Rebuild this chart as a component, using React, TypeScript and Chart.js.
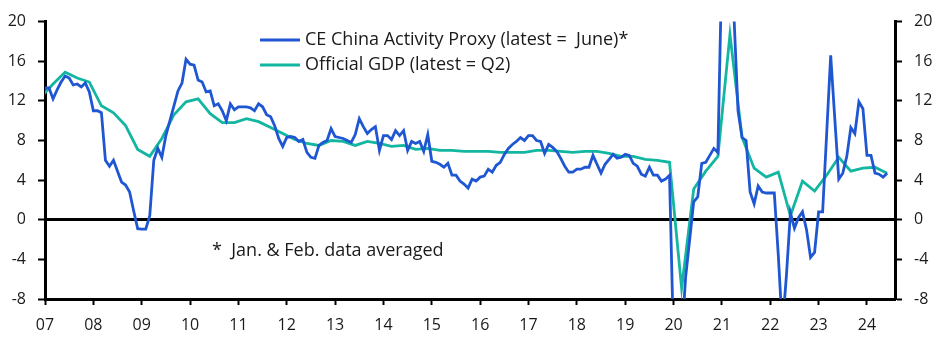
import React, { useEffect, useRef } from "react";
import { Chart, registerables } from "chart.js";

Chart.register(...registerables);

// ---- DATA ----
// CE China Activity Proxy, % y/y, monthly from Jan 2007 to Jun 2024
const activityStart = 2007;
const activityProxy = [
  13.3, 13.3, 12.2, 13.1, 13.9, 14.5, 14.3, 13.6, 13.7, 13.4, 13.8, 12.9, // 2007
  11.0, 11.0, 10.8, 6.0, 5.4, 6.0, 4.9, 3.8, 3.5, 2.8, 0.9, -0.9, // 2008
  -0.95, -0.95, 0.4, 6.0, 7.2, 6.3, 8.5, 10.0, 11.5, 13.0, 13.8, 16.2, // 2009
  15.7, 15.6, 14.1, 13.9, 12.9, 13.0, 11.5, 11.7, 11.0, 10.0, 11.7, 11.1, // 2010
  11.4, 11.4, 11.4, 11.3, 11.0, 11.7, 11.4, 10.6, 10.4, 9.5, 8.2, 7.4, // 2011
  8.3, 8.4, 8.3, 7.9, 8.1, 6.8, 6.3, 6.2, 7.5, 7.8, 8.0, 9.2, // 2012
  8.4, 8.3, 8.2, 8.0, 7.8, 8.6, 10.2, 9.4, 8.7, 9.1, 9.4, 7.0, // 2013
  8.5, 8.5, 8.1, 9.0, 8.5, 9.0, 7.0, 7.9, 7.7, 7.9, 6.9, 8.6, // 2014
  5.9, 5.8, 5.6, 5.3, 5.7, 4.5, 4.5, 3.9, 3.6, 3.2, 4.1, 3.9, // 2015
  4.3, 4.4, 5.1, 4.8, 5.5, 5.8, 6.6, 7.2, 7.6, 7.9, 8.3, 8.0, // 2016
  8.5, 8.5, 8.0, 7.9, 6.7, 7.6, 7.3, 6.9, 6.2, 5.4, 4.8, 4.8, // 2017
  5.1, 5.1, 5.3, 5.3, 6.5, 5.6, 4.7, 5.6, 6.1, 6.6, 6.2, 6.3, // 2018
  6.6, 6.5, 5.7, 5.4, 4.6, 4.4, 5.3, 4.5, 4.5, 3.9, 4.1, 4.5, // 2019
  -12.5, -12.5, -12.0, -5.8, -2.0, 1.8, 2.3, 5.7, 5.8, 6.5, 7.2, 6.8, // 2020
  26.0, 26.0, 28.0, 20.5, 11.0, 8.3, 8.0, 2.8, 1.6, 3.4, 2.8, 2.7, // 2021
  2.7, 2.7, -3.6, -11.0, -5.7, 0.7, -0.85, 0.2, 0.8, -1.0, -3.8, -3.3, // 2022
  0.8, 0.8, 8.7, 16.6, 10.3, 4.1, 4.7, 6.4, 9.3, 8.7, 11.9, 11.2, // 2023
  6.5, 6.5, 4.7, 4.6, 4.3, 4.7, // 2024
];

// Official GDP, % y/y, quarterly from Q4 2006 to Q2 2024
const gdpStartYear = 2006;
const gdpStartQuarter = 4;
const officialGdp = [
  12.4, // 2006 Q4
  13.7, 14.9, 14.3, 13.9, // 2007
  11.5, 10.8, 9.5, 7.1, // 2008
  6.4, 8.2, 10.6, 11.9, // 2009
  12.2, 10.7, 9.8, 9.8, // 2010
  10.2, 9.9, 9.3, 8.7, // 2011
  8.1, 7.7, 7.5, 8.0, // 2012
  7.9, 7.5, 7.9, 7.7, // 2013
  7.4, 7.5, 7.1, 7.2, // 2014
  7.0, 7.0, 6.9, 6.9, // 2015
  6.9, 6.8, 6.8, 6.8, // 2016
  7.0, 7.0, 6.9, 6.8, // 2017
  6.9, 6.9, 6.7, 6.4, // 2018
  6.4, 6.1, 6.0, 5.8, // 2019
  -6.9, 3.1, 4.9, 6.4, // 2020
  18.7, 8.3, 5.2, 4.3, // 2021
  4.8, 0.4, 3.9, 2.9, // 2022
  4.5, 6.3, 4.9, 5.2, // 2023
  5.3, 4.7, // 2024
];

const yearTicks = [2007, 2008, 2009, 2010, 2011, 2012, 2013, 2014, 2015, 2016, 2017, 2018, 2019, 2020, 2021, 2022, 2023, 2024];
const valueTicks = [-8, -4, 0, 4, 8, 12, 16, 20];

const legendLabels = ["CE China Activity Proxy (latest =  June)*", "Official GDP (latest = Q2)"];
const noteText = "*  Jan. & Feb. data averaged";

const BLUE = "#1f56d2";
const TEAL = "#13b6a0";
const FONT = "'Open Sans', 'Noto Sans', sans-serif";

export default function App() {
  const ref = useRef<HTMLCanvasElement | null>(null);

  useEffect(() => {
    document.body.style.margin = "0";
    const canvas = ref.current;
    if (!canvas) return;

    const activityPoints = activityProxy.map((v, i) => ({ x: activityStart + i / 12, y: v }));
    const gdpPoints = officialGdp.map((v, i) => {
      const q = gdpStartQuarter - 1 + i;
      return { x: gdpStartYear + (q * 3 + 2) / 12, y: v };
    });

    const overlay = {
      id: "overlay",
      afterDraw(chart: any) {
        const ctx = chart.ctx;
        ctx.save();
        ctx.font = `18px ${FONT}`;
        ctx.textBaseline = "middle";
        ctx.fillStyle = "#1a1a1a";
        const colors = [BLUE, TEAL];
        const ys = [40, 65];
        legendLabels.forEach((t, i) => {
          ctx.strokeStyle = colors[i];
          ctx.lineWidth = 3;
          ctx.beginPath();
          ctx.moveTo(260, ys[i]);
          ctx.lineTo(300, ys[i]);
          ctx.stroke();
          ctx.fillText(t, 305, ys[i]);
        });
        ctx.fillText(noteText, 212, 251);
        ctx.restore();
      },
    };

    const yCommon = (position: string) => ({
      type: "linear",
      position,
      min: -8,
      max: 20,
      afterBuildTicks: (s: any) => {
        s.ticks = valueTicks.map((v) => ({ value: v }));
      },
      afterFit: (s: any) => {
        s.width = position === "left" ? 45 : 44;
      },
      border: { display: true, color: "#000", width: 3 },
      ticks: {
        color: "#1a1a1a",
        font: { family: FONT, size: 16 },
        padding: 12,
      },
    });

    const chart = new Chart(canvas, {
      type: "line",
      data: {
        datasets: [
          {
            label: legendLabels[0],
            data: activityPoints,
            borderColor: BLUE,
            borderWidth: 2.8,
            pointRadius: 0,
            tension: 0,
            yAxisID: "y",
          },
          {
            label: legendLabels[1],
            data: gdpPoints,
            borderColor: TEAL,
            borderWidth: 2.8,
            pointRadius: 0,
            tension: 0,
            yAxisID: "y",
          },
        ],
      },
      options: {
        animation: false,
        responsive: true,
        maintainAspectRatio: false,
        layout: { padding: { top: 15, left: 0, right: 0, bottom: 0 } },
        plugins: { legend: { display: false }, tooltip: { enabled: false } },
        scales: {
          x: {
            type: "linear",
            min: 2007,
            max: 2024.58,
            afterBuildTicks: (s: any) => {
              s.ticks = yearTicks.map((v) => ({ value: v }));
            },
            afterFit: (s: any) => {
              s.height = 51;
            },
            border: { display: true, color: "#000", width: 3 },
            grid: { drawOnChartArea: false, color: "#000", tickLength: 6, tickWidth: 2, tickColor: "#000" },
            ticks: {
              color: "#1a1a1a",
              font: { family: FONT, size: 16 },
              padding: 11,
              maxRotation: 0,
              autoSkip: false,
              callback: (v: any) => String(Math.round(v) % 100).padStart(2, "0"),
            },
          },
          y: {
            ...yCommon("left"),
            grid: {
              drawOnChartArea: true,
              color: (c: any) => (c.tick && c.tick.value === 0 ? "#000" : "rgba(0,0,0,0)"),
              lineWidth: 3,
              tickLength: 7,
              tickWidth: 2,
              tickColor: "#000",
            },
          },
          y2: {
            ...yCommon("right"),
            grid: { drawOnChartArea: false, tickLength: 7, tickWidth: 2, tickColor: "#000" },
          },
        },
      } as any,
      plugins: [overlay],
    } as any);

    return () => chart.destroy();
  }, []);

  return (
    <div style={{ position: "fixed", left: 0, top: 0, width: 939, height: 350 }}>
      <canvas ref={ref} />
    </div>
  );
}
